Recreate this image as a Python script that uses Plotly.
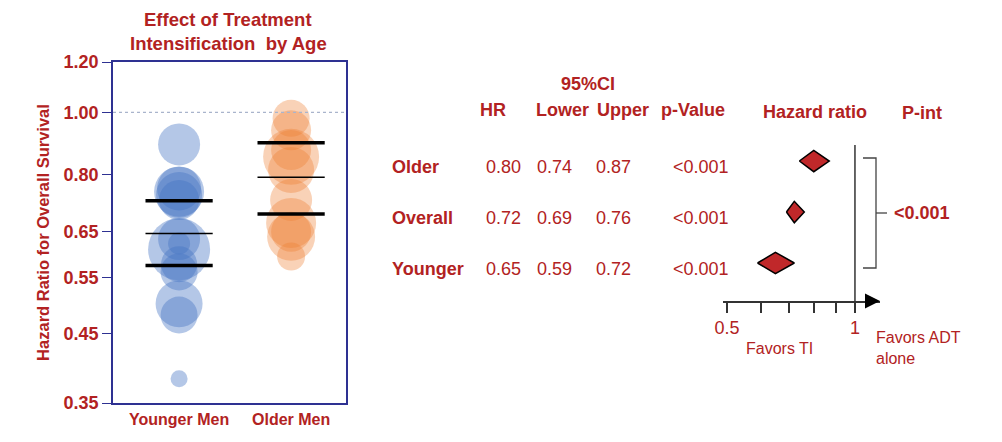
import plotly.graph_objects as go

# ---------------- data ----------------
groups = ["Younger Men", "Older Men"]
younger_hr = [0.891, 0.760, 0.751, 0.742, 0.729, 0.633, 0.610, 0.623, 0.578, 0.562, 0.501, 0.481, 0.382]
younger_size = [42, 44, 50, 46, 40, 42, 62, 22, 36, 37, 47, 37, 17]
older_hr = [0.979, 0.938, 0.852, 0.873, 0.812, 0.729, 0.671, 0.650, 0.638, 0.594]
older_size = [37, 40, 56, 40, 46, 42, 50, 40, 48, 28]
younger_lines = [0.727, 0.646, 0.575]   # upper CI, HR, lower CI
older_lines = [0.896, 0.791, 0.693]
line_widths = [3.5, 1.5, 3.5]
y_ticks = [0.35, 0.45, 0.55, 0.65, 0.80, 1.00, 1.20]

rows = ["Older", "Overall", "Younger"]
row_pos = [2, 1, 0]
hr = [0.80, 0.72, 0.65]
lower = [0.74, 0.69, 0.59]
upper = [0.87, 0.76, 0.72]
pvals = ["<0.001", "<0.001", "<0.001"]
p_int = "<0.001"
forest_ticks = [0.5, 0.6, 0.7, 0.8, 0.9, 1.0]
forest_ticktext = ["0.5", "", "", "", "", "1"]

RED = "#B22222"
NAVY = "#2E3192"
FONT = "Liberation Sans, Arial, sans-serif"
W, H = 1002, 442


def px(x):
    return x / W


def py(y):
    return 1 - y / H


fig = go.Figure()

# bubbles
fig.add_trace(go.Scatter(
    x=[0] * len(younger_hr), y=younger_hr, mode="markers",
    marker=dict(size=younger_size, color="rgba(68,114,196,0.57)", line=dict(width=0)),
    xaxis="x", yaxis="y", showlegend=False, hoverinfo="y"))
fig.add_trace(go.Scatter(
    x=[1] * len(older_hr), y=older_hr, mode="markers",
    marker=dict(size=older_size, color="rgba(237,125,49,0.5)", line=dict(width=0)),
    xaxis="x", yaxis="y", showlegend=False, hoverinfo="y"))

for gi, vals in enumerate([younger_lines, older_lines]):
    for v, w in zip(vals, line_widths):
        fig.add_trace(go.Scatter(
            x=[gi - 0.3, gi + 0.3], y=[v, v], mode="lines",
            line=dict(color="black", width=w),
            xaxis="x", yaxis="y", showlegend=False, hoverinfo="skip"))

# forest diamonds
h = 0.21
for r, lo, m, up in zip(row_pos, lower, hr, upper):
    fig.add_trace(go.Scatter(
        x=[lo, m, up, m, lo], y=[r, r + h, r, r - h, r], mode="lines",
        fill="toself", fillcolor="#C0282A",
        line=dict(color="black", width=1.5),
        xaxis="x2", yaxis="y2", showlegend=False, hoverinfo="skip"))

fig.update_layout(
    width=W, height=H, margin=dict(l=0, r=0, t=0, b=0, autoexpand=False),
    paper_bgcolor="white", plot_bgcolor="white",
    font=dict(family=FONT, color=RED),
    xaxis=dict(domain=[px(113), px(346)], range=[-0.59, 1.49], automargin=False,
               tickvals=[0, 1], ticktext=groups, ticks="", ticklabelstandoff=1,
               tickfont=dict(size=16, color=RED, family=FONT, weight="bold"),
               showgrid=False, zeroline=False, showline=True, mirror=True,
               linecolor=NAVY, linewidth=1.5),
    yaxis=dict(domain=[py(403), py(62)], type="log", automargin=False,
               range=[-0.45593, 0.07918],
               tickvals=y_ticks, ticktext=[f"{v:.2f}" for v in y_ticks],
               ticks="outside", ticklen=9, tickcolor=NAVY, tickwidth=1.2,
               tickfont=dict(size=18, color=RED, family=FONT, weight="bold"),
               showgrid=False, zeroline=False, showline=True, mirror=True,
               linecolor=NAVY, linewidth=1.5,
               title=dict(text="Hazard Ratio for Overall Survival", standoff=10,
                          font=dict(size=16.5, color=RED, family=FONT, weight="bold"))),
    xaxis2=dict(domain=[px(723), px(880)], type="log", anchor="y2", automargin=False,
                range=[-0.3104, 0.0589],
                tickvals=forest_ticks, ticktext=forest_ticktext,
                ticks="outside", ticklen=10, tickcolor="#333", tickwidth=1.5,
                tickfont=dict(size=18, color=RED, family=FONT),
                showgrid=False, zeroline=False, showline=True,
                linecolor="#333", linewidth=1.5),
    yaxis2=dict(domain=[py(301), py(145)], range=[-0.745, 2.314], anchor="x2",
                automargin=False, visible=False, showgrid=False, zeroline=False),
)

shapes = [
    # reference line at HR 1.00 (left panel)
    dict(type="line", xref="x domain", yref="y", x0=0, x1=1, y0=1.0, y1=1.0,
         line=dict(color="#A9B4CC", width=1.2, dash="dot")),
    # line of no effect in forest plot
    dict(type="line", xref="x2", yref="y2 domain", x0=1, x1=1, y0=0, y1=1,
         line=dict(color="#333", width=1.5)),
    # bracket
    dict(type="path", xref="paper", yref="paper",
         path=f"M {px(863)} {py(158)} L {px(876)} {py(158)} L {px(876)} {py(268)} L {px(863)} {py(268)}",
         line=dict(color="#444", width=1.3)),
    dict(type="line", xref="paper", yref="paper", x0=px(876), x1=px(887), y0=py(213), y1=py(213),
         line=dict(color="#444", width=1.3)),
]
fig.update_layout(shapes=shapes)

ann = []
# left title
title_font = dict(size=18.5, color=RED, family=FONT, weight="bold")
ann.append(dict(text="Effect of Treatment", x=px(228), y=py(20),
                xref="paper", yref="paper", showarrow=False, xanchor="center", yanchor="middle",
                font=title_font))
ann.append(dict(text="Intensification  by Age", x=px(228), y=py(44),
                xref="paper", yref="paper", showarrow=False, xanchor="center", yanchor="middle",
                font=title_font))
# table headers
hdr_font = dict(size=18, color=RED, family=FONT, weight="bold")
for txt, x, y in [("95%CI", 588, 84), ("HR", 493, 110), ("Lower", 562, 110), ("Upper", 623, 110),
                  ("p-Value", 693, 110), ("Hazard ratio", 815, 112), ("P-int", 922, 113)]:
    ann.append(dict(text=txt, x=px(x), y=py(y), xref="paper", yref="paper", showarrow=False,
                    xanchor="center", yanchor="middle", font=hdr_font))
# table rows
val_font = dict(size=18, color=RED, family=FONT)
for name, r, a, b, c, p in zip(rows, row_pos, hr, lower, upper, pvals):
    ann.append(dict(text=name, x=px(390), y=r, xref="paper", yref="y2", yshift=-6, showarrow=False,
                    xanchor="left", yanchor="middle", font=hdr_font))
    for v, xc in [(a, 503), (b, 554), (c, 613)]:
        ann.append(dict(text=f"{v:.2f}", x=px(xc), y=r, xref="paper", yref="y2", yshift=-6,
                        showarrow=False, xanchor="center", yanchor="middle", font=val_font))
    ann.append(dict(text=p, x=px(731), y=r, xref="paper", yref="y2", yshift=-6, showarrow=False,
                    xanchor="right", yanchor="middle", font=val_font))
# p-int value
ann.append(dict(text=p_int, x=px(892), y=py(213), xref="paper", yref="paper", showarrow=False,
                xanchor="left", yanchor="middle",
                font=dict(size=18, color=RED, family=FONT, weight="bold")))
# favors labels
small = dict(size=16, color=RED, family=FONT)
ann.append(dict(text="Favors TI", x=px(779), y=py(348), xref="paper", yref="paper", showarrow=False,
                xanchor="center", yanchor="middle", font=small))
ann.append(dict(text="Favors ADT<br>alone", x=px(874), y=py(348), xref="paper", yref="paper",
                showarrow=False, xanchor="left", yanchor="middle", align="left", font=small))
# arrow head at end of forest axis
ann.append(dict(text="", x=1.0, y=0, xref="x2 domain", yref="y2 domain", ax=-14, ay=0,
                showarrow=True, arrowhead=2, arrowsize=2, arrowwidth=1.5, arrowcolor="black"))
fig.update_layout(annotations=ann)

fig.write_html("out.html")
